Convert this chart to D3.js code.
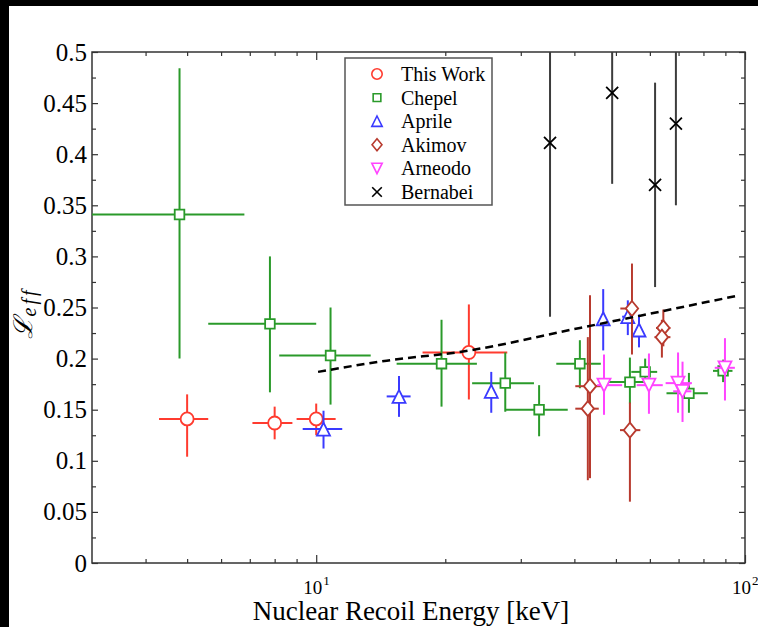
<!DOCTYPE html>
<html>
<head>
<meta charset="utf-8">
<script src="https://cdn.jsdelivr.net/npm/d3@7"></script>
<style>
  body { margin: 0; background: #000; }
  svg { display: block; }
</style>
</head>
<body>
<div id="chart"></div>
<script>
// Leff vs nuclear recoil energy, several measurements

// each row: [E, Elow, Ehigh, Leff, Llow, Lhigh]
const thisWork = [
  [5.0, 4.3, 5.6, 0.141, 0.104, 0.165],
  [8.0, 7.1, 8.8, 0.137, 0.121, 0.153],
  [10.0, 9.0, 11.1, 0.141, 0.125, 0.156],
  [22.7, 17.7, 27.9, 0.206, 0.160, 0.253]
];
const chepel = [
  [4.8, 2.5, 6.8, 0.341, 0.200, 0.484],
  [7.8, 5.6, 10.0, 0.234, 0.167, 0.300],
  [10.8, 8.2, 13.4, 0.203, 0.155, 0.250],
  [19.6, 15.4, 23.7, 0.195, 0.153, 0.238],
  [27.6, 23.1, 32.2, 0.176, 0.148, 0.206],
  [33.1, 27.6, 38.6, 0.150, 0.124, 0.174],
  [41.2, 36.3, 46.1, 0.195, 0.171, 0.218],
  [53.9, 47.6, 60.1, 0.177, 0.156, 0.201],
  [58.5, 54.3, 62.4, 0.187, 0.176, 0.200],
  [74.0, 65.6, 81.9, 0.166, 0.147, 0.186],
  [88.9, 84.2, 93.5, 0.188, 0.177, 0.199]
];
const aprile = [
  [10.4, 9.3, 11.5, 0.131, 0.112, 0.149],
  [15.6, 14.6, 16.6, 0.163, 0.143, 0.183],
  [25.6, 25.6, 25.6, 0.168, 0.147, 0.187],
  [46.7, 46.7, 46.7, 0.239, 0.208, 0.268],
  [53.3, 51.7, 54.8, 0.241, 0.223, 0.257],
  [56.6, 56.6, 56.6, 0.228, 0.211, 0.243]
];
const akimov = [
  [43.5, 40.2, 46.6, 0.173, 0.083, 0.262],
  [43.0, 40.2, 45.6, 0.151, 0.081, 0.221],
  [54.5, 51.2, 56.3, 0.249, 0.204, 0.293],
  [53.9, 51.1, 57.0, 0.130, 0.060, 0.157],
  [64.5, 62.0, 67.0, 0.230, 0.212, 0.248],
  [64.0, 61.5, 67.0, 0.221, 0.201, 0.238]
];
const arneodo = [
  [46.9, 45.2, 51.7, 0.174, 0.145, 0.204],
  [59.7, 55.9, 64.3, 0.174, 0.146, 0.205],
  [69.8, 65.3, 75.2, 0.176, 0.147, 0.206],
  [71.5, 68.0, 75.0, 0.168, 0.138, 0.197],
  [89.8, 85.0, 94.7, 0.191, 0.159, 0.220]
];
const bernabei = [
  [35.1, 35.1, 35.1, 0.411, 0.241, 0.581],
  [49.0, 49.0, 49.0, 0.460, 0.371, 0.549],
  [61.7, 61.7, 61.7, 0.370, 0.270, 0.470],
  [69.0, 69.0, 69.0, 0.430, 0.350, 0.510]
];

// dashed model curve
const modelE = [10.1, 14.6, 22.0, 41.2, 97.3];
const modelL = [0.187, 0.198, 0.207, 0.230, 0.262];

const seriesNames = ["This Work", "Chepel", "Aprile", "Akimov", "Arneodo", "Bernabei"];
const seriesData = [thisWork, chepel, aprile, akimov, arneodo, bernabei];
const seriesMarkers = ["circle", "square", "triUp", "diamond", "triDown", "cross"];
const seriesColors = ["#ff3b2f", "#2a9a2a", "#3a3aff", "#b83a2e", "#ff44ff", "#000000"];
const barColors = ["#ff3b2f", "#2a9a2a", "#3a3aff", "#b83a2e", "#ff44ff", "#3c3c3c"];

const yMajorTicks = [0, 0.05, 0.1, 0.15, 0.2, 0.25, 0.3, 0.35, 0.4, 0.45, 0.5];
const xMajorTicks = [10, 100];
const xTickExponents = ["1", "2"];

const W = 758, H = 627;
const plot = {left: 92, right: 745, top: 52, bottom: 563};
const serif = "'Liberation Serif', 'Times New Roman', serif";

/**
 * markerPath() returns an svg path string for a marker centred on 0,0
 */
function markerPath(kind, s) {
  switch (kind) {
    case "circle":
      return `M${6.5*s},0A${6.5*s},${6.5*s} 0 1,1 ${-6.5*s},0A${6.5*s},${6.5*s} 0 1,1 ${6.5*s},0Z`;
    case "square":
      return `M${-4.8*s},${-4.8*s}H${4.8*s}V${4.8*s}H${-4.8*s}Z`;
    case "triUp":
      return `M0,${-6.5*s}L${6.5*s},${6.5*s}L${-6.5*s},${6.5*s}Z`;
    case "triDown":
      return `M0,${6.5*s}L${6.5*s},${-6.5*s}L${-6.5*s},${-6.5*s}Z`;
    case "diamond":
      return `M0,${-7.5*s}L${6.2*s},0L0,${7.5*s}L${-6.2*s},0Z`;
    case "cross":
      return `M${-6*s},${-6*s}L${6*s},${6*s}M${-6*s},${6*s}L${6*s},${-6*s}`;
  }
}

const svg = d3.select("#chart").append("svg")
  .attr("width", W)
  .attr("height", H);

// white page on black
svg.append("rect")
  .attr("x", 9).attr("y", 6)
  .attr("width", W - 9).attr("height", H - 6)
  .attr("fill", "#fff");

const x = d3.scaleLog().domain([3, 100]).range([plot.left, plot.right]);
const y = d3.scaleLinear().domain([0, 0.5]).range([plot.bottom, plot.top]);

svg.append("clipPath").attr("id", "clip")
  .append("rect")
  .attr("x", plot.left).attr("y", plot.top)
  .attr("width", plot.right - plot.left)
  .attr("height", plot.bottom - plot.top);

// ---- axes (ticks point inward)
const yMinor = d3.range(0.025, 0.5, 0.05);
const xMinor = [4, 5, 6, 7, 8, 9, 20, 30, 40, 50, 60, 70, 80, 90];

function styleAxis(g, labels) {
  g.select(".domain").remove();
  g.selectAll("line").attr("stroke", "#333").attr("stroke-width", 1.2);
  if (!labels) {
    g.selectAll("text").remove();
    return;
  }
  g.selectAll("text")
    .attr("font-family", serif)
    .attr("font-size", 25)
    .attr("fill", "#000");
}

svg.append("g")
  .attr("transform", `translate(${plot.left},0)`)
  .call(d3.axisLeft(y).tickValues(yMajorTicks).tickSizeInner(-6).tickSizeOuter(0)
    .tickPadding(5).tickFormat(d => String(+d.toFixed(2))))
  .call(styleAxis, true);
svg.append("g")
  .attr("transform", `translate(${plot.left},0)`)
  .call(d3.axisLeft(y).tickValues(yMinor).tickSizeInner(-4).tickSizeOuter(0))
  .call(styleAxis, false);
svg.append("g")
  .attr("transform", `translate(${plot.right},0)`)
  .call(d3.axisRight(y).tickValues(yMajorTicks).tickSizeInner(-6).tickSizeOuter(0))
  .call(styleAxis, false);
svg.append("g")
  .attr("transform", `translate(${plot.right},0)`)
  .call(d3.axisRight(y).tickValues(yMinor).tickSizeInner(-4).tickSizeOuter(0))
  .call(styleAxis, false);

[[d3.axisBottom, plot.bottom], [d3.axisTop, plot.top]].forEach(function(a) {
  svg.append("g")
    .attr("transform", `translate(0,${a[1]})`)
    .call(a[0](x).tickValues(xMajorTicks).tickSizeInner(-8).tickSizeOuter(0))
    .call(styleAxis, false);
  svg.append("g")
    .attr("transform", `translate(0,${a[1]})`)
    .call(a[0](x).tickValues(xMinor).tickSizeInner(-4).tickSizeOuter(0))
    .call(styleAxis, false);
});

// 10^n labels
const xLab = svg.append("g").selectAll("text")
  .data(xMajorTicks)
  .enter()
  .append("text")
  .attr("x", d => x(d) - 13)
  .attr("y", 594)
  .attr("font-family", serif)
  .attr("font-size", 19)
  .text("10");
xLab.append("tspan")
  .attr("dy", -9)
  .attr("dx", 1)
  .attr("font-size", 13)
  .text((d, i) => xTickExponents[i]);

// frame
svg.append("rect")
  .attr("x", plot.left).attr("y", plot.top)
  .attr("width", plot.right - plot.left)
  .attr("height", plot.bottom - plot.top)
  .attr("fill", "none")
  .attr("stroke", "#333")
  .attr("stroke-width", 1.5);

// axis titles
svg.append("text")
  .attr("x", 411).attr("y", 620)
  .attr("text-anchor", "middle")
  .attr("font-family", serif)
  .attr("font-size", 27)
  .text("Nuclear Recoil Energy [keV]");

const yTitle = svg.append("text")
  .attr("transform", "translate(32,313) rotate(-90)")
  .attr("text-anchor", "middle")
  .attr("font-family", "'DejaVu Serif', serif")
  .attr("font-style", "italic")
  .attr("font-size", 26)
  .text("\u2112");
yTitle.append("tspan")
  .attr("dy", 4)
  .attr("font-family", serif)
  .attr("font-size", 20)
  .attr("letter-spacing", 3)
  .text("eff");

// ---- data
const plotArea = svg.append("g").attr("clip-path", "url(#clip)");

seriesData.forEach(function(rows, i) {
  const g = plotArea.append("g");
  const bars = g.selectAll("g.bar")
    .data(rows)
    .enter()
    .append("g")
    .attr("stroke", barColors[i])
    .attr("stroke-width", 2);
  bars.append("line")
    .attr("x1", d => x(d[1])).attr("x2", d => x(d[2]))
    .attr("y1", d => y(d[3])).attr("y2", d => y(d[3]));
  bars.append("line")
    .attr("x1", d => x(d[0])).attr("x2", d => x(d[0]))
    .attr("y1", d => y(d[4])).attr("y2", d => y(d[5]));

  g.selectAll("path.marker")
    .data(rows)
    .enter()
    .append("path")
    .attr("class", "marker")
    .attr("transform", d => `translate(${x(d[0])},${y(d[3])})`)
    .attr("d", markerPath(seriesMarkers[i], 1))
    .attr("fill", seriesMarkers[i] == "cross" ? "none" : "#fff")
    .attr("stroke", seriesColors[i])
    .attr("stroke-width", 1.8);
});

// dashed curve
plotArea.append("path")
  .datum(d3.zip(modelE, modelL))
  .attr("d", d3.line().x(d => x(d[0])).y(d => y(d[1])).curve(d3.curveMonotoneX))
  .attr("fill", "none")
  .attr("stroke", "#000")
  .attr("stroke-width", 2.5)
  .attr("stroke-dasharray", "8,5");

// ---- legend
const legend = svg.append("g");
legend.append("rect")
  .attr("x", 345).attr("y", 58)
  .attr("width", 147).attr("height", 147)
  .attr("fill", "#fff")
  .attr("stroke", "#555")
  .attr("stroke-width", 1.5);
const item = legend.selectAll("g.item")
  .data(seriesNames)
  .enter()
  .append("g")
  .attr("transform", (d, i) => `translate(377,${74 + i * 23.6})`);
item.append("path")
  .attr("d", (d, i) => markerPath(seriesMarkers[i], 0.8))
  .attr("fill", "none")
  .attr("stroke", (d, i) => seriesColors[i])
  .attr("stroke-width", 1.6);
item.append("text")
  .attr("x", 24).attr("y", 7)
  .attr("font-family", serif)
  .attr("font-size", 20)
  .text(d => d);
</script>
</body>
</html>
